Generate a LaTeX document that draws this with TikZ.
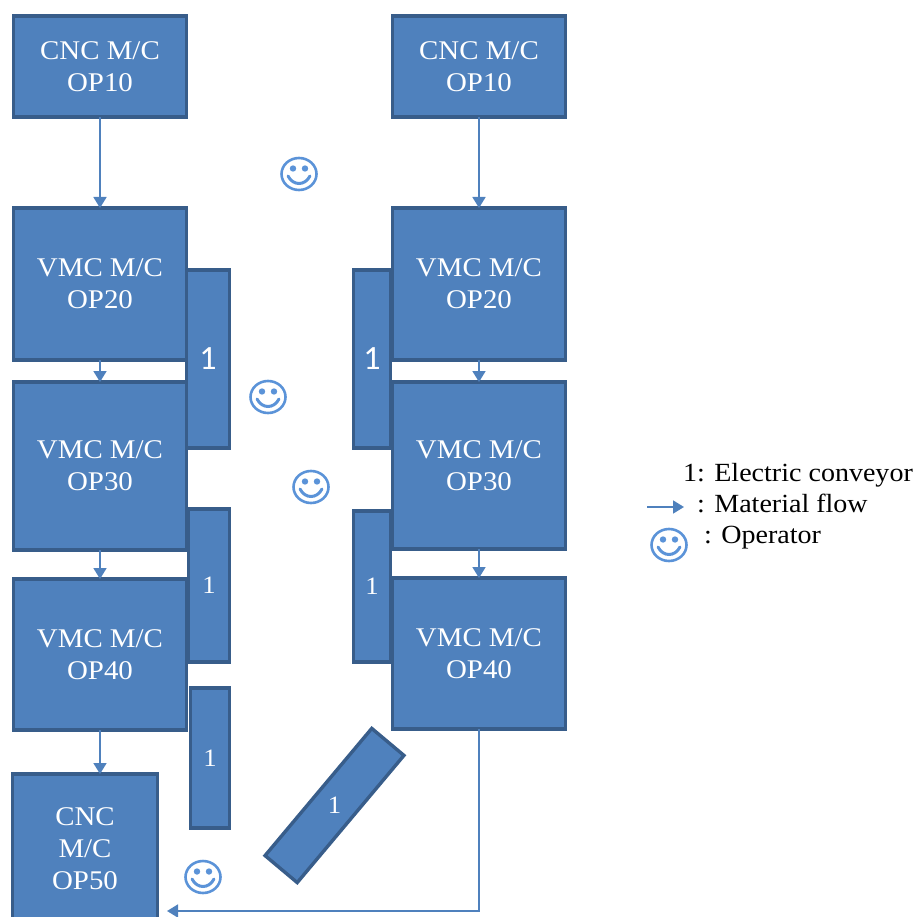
\documentclass[tikz,border=0pt]{standalone}
\usepackage{fontspec}
\setmainfont[FakeStretch=1.07]{Liberation Serif}
\newfontfamily\labelfont{Carlito}
\usepackage{xcolor}
\usetikzlibrary{arrows.meta,positioning}
\definecolor{boxfill}{HTML}{4F81BD}
\definecolor{boxline}{HTML}{385D8A}
\definecolor{smiley}{HTML}{5B93D8}

\begin{document}
\begin{tikzpicture}[
  x=1pt, y=1pt,
  node distance=22pt,
  box/.style={draw=boxline, line width=3.4pt, fill=boxfill, text=white, align=center,
    outer sep=0pt, inner sep=0pt, minimum width=173pt, minimum height=152pt,
    font=\fontsize{27}{32}\selectfont},
  conv/.style={draw=boxline, line width=3.4pt, fill=boxfill, text=white, align=center,
    outer sep=0pt, inner sep=0pt, font=\fontsize{25}{30}\selectfont},
  bigconv/.style={conv, font=\labelfont\fontsize{34}{36}\selectfont},
  legend/.style={inner sep=0pt, anchor=base west, font=\fontsize{26.2}{32}\selectfont},
  arrow/.style={-{Triangle[length=11pt,width=13pt]}, line width=1.8pt, draw=boxfill},
  operator/.pic={
    \draw[smiley, line width=2.6pt] (0,0) ellipse (17.5pt and 16pt);
    \fill[smiley] (-6,5.5) circle (3.2pt);
    \fill[smiley] (6,5.5) circle (3.2pt);
    \draw[smiley, line width=3pt, line cap=round] (-11,-2) .. controls (-6,-12) and (6,-12) .. (11,-2);
  }
]
\useasboundingbox (0,0) rectangle (915,-917);
\clip (0,0) rectangle (915,-917);

\node[box, minimum height=101pt] (cncl) at (100,-66.5) {CNC M/C\\OP10};
\node[box, below=91pt of cncl]             (vmcla) {VMC M/C\\OP20};
\node[box, below=22pt of vmcla, minimum height=168pt] (vmclb) {VMC M/C\\OP30};
\node[box, below=29pt of vmclb, minimum height=151pt] (vmclc) {VMC M/C\\OP40};
\node[box, minimum width=145pt, minimum height=150pt] (cncz) at (85,-849) {CNC\\M/C\\OP50};

\node[box, minimum height=101pt] (cncr) at (479,-66.5) {CNC M/C\\OP10};
\node[box, below=91pt of cncr]             (vmcra) {VMC M/C\\OP20};
\node[box, below=22pt of vmcra, minimum height=167pt] (vmcrb) {VMC M/C\\OP30};
\node[box, below=29pt of vmcrb, minimum height=151pt] (vmcrc) {VMC M/C\\OP40};

\node[bigconv, minimum width=43pt, minimum height=178pt] (convla) at (208,-359) {1};
\node[conv, minimum width=41pt, minimum height=153pt] (convlb) at (209,-585.5) {1};
\node[conv, minimum width=39pt, minimum height=140pt] (convlc) at (210,-758) {1};
\node[bigconv, minimum width=37pt, minimum height=178pt] (convra) at (372,-359) {1};
\node[conv, minimum width=37pt, minimum height=151pt] (convrb) at (372,-586.5) {1};
\node[conv, minimum width=42pt, minimum height=166pt, rotate=-40] (convd) at (334.5,-805.5)
  {\rotatebox{40}{1}};

\pic at (299,-174) {operator};
\pic at (268,-397) {operator};
\pic at (311,-487) {operator};
\pic at (203,-877) {operator};
\pic at (669,-545) {operator};

\node[legend] (legconv) at (683,-481) {1: Electric conveyor};
\node[legend] (legflow) at (697,-512) {: Material flow};
\node[legend] (legoper) at (704,-543) {: Operator};

\coordinate (flowstart) at (647,-507);
\coordinate (flowend) at (684,-507);
\coordinate (corner) at (479,-911);
\coordinate (cnczin) at (167,-911);

\draw[arrow] (cncl)--(vmcla);
\draw[arrow] (vmcla)--(vmclb);
\draw[arrow] (vmclb)--(vmclc);
\draw[arrow] (vmclc)--(vmclc.south |- cncz.north);
\draw[arrow] (cncr)--(vmcra);
\draw[arrow] (vmcra)--(vmcrb);
\draw[arrow] (vmcrb)--(vmcrc);
\draw[arrow] (vmcrc.south)--(corner)--(cnczin);
\draw[arrow] (flowstart)--(flowend);
\end{tikzpicture}
\end{document}
